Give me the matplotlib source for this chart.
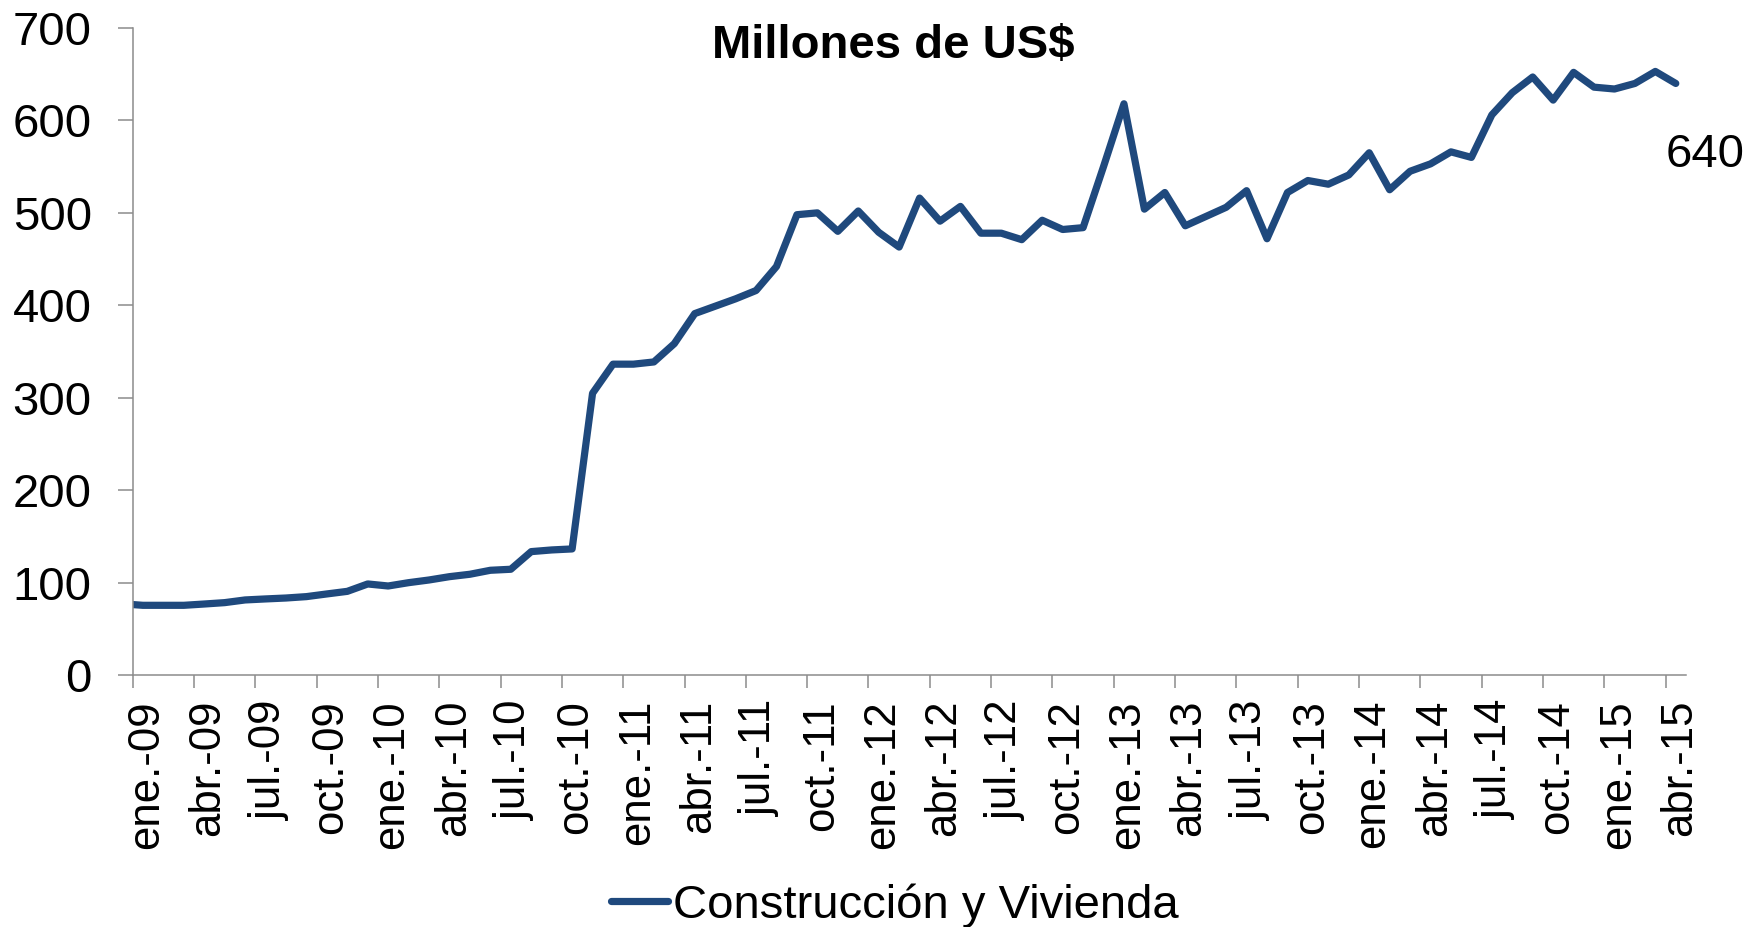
import matplotlib
matplotlib.use("Agg")
import matplotlib.pyplot as plt
import numpy as np
from matplotlib.transforms import ScaledTranslation

plt.rcParams['font.family'] = ['Liberation Sans', 'DejaVu Sans']

# ---- data -------------------------------------------------------------
month_abbr = ["ene.", "feb.", "mar.", "abr.", "may.", "jun.",
              "jul.", "ago.", "sep.", "oct.", "nov.", "dic."]
periods = ["dic.-08"] + [f"{m}-{y:02d}" for y in range(9, 16) for m in month_abbr][:76]

values = [77,
          # 2009
          75.4, 75.4, 75.4, 76.8, 78.3, 81.2, 82.3, 83.3, 84.8, 87.7, 90.5, 98.5,
          # 2010
          96.3, 99.9, 102.8, 106.4, 109, 113.3, 114.4, 133.5, 135.3, 136.4, 304.8, 336.3,
          # 2011
          336.3, 338.7, 358.5, 391, 399, 407, 416, 442, 498, 500, 480, 502,
          # 2012
          479, 463, 516, 491, 507, 478, 478, 471, 492, 482, 484, 550,
          # 2013
          618, 504, 522, 486, 496, 506, 524, 472, 522, 535, 531, 541,
          # 2014
          565, 525, 545, 553, 566, 560, 606, 630, 647, 622, 652, 636,
          # 2015
          634, 640, 653, 640]

series_name = "Construcción y Vivienda"
title = "Millones de US\\$"
yticks = [0, 100, 200, 300, 400, 500, 600, 700]

# ---- figure -----------------------------------------------------------
W, H = 1758, 927
fig = plt.figure(figsize=(W / 100, H / 100), dpi=100)
ax = fig.add_axes([132.7 / W, 1 - 675 / H, (1686 - 132.7) / W, (675 - 28) / H])

x = np.arange(len(values)) - 1          # ene.-09 -> 0
line_color = "#1F497D"
ax.plot(x, values, color=line_color, lw=5.2, solid_joinstyle='round',
        solid_capstyle='round', label=series_name)

ax.set_xlim(-0.5, 75.5)
ax.set_ylim(0, 700)
ax.set_yticks(yticks)
ax.set_yticklabels([str(v) for v in yticks], fontsize=34)

tick_pos = x[1::3] - 0.5
ax.set_xticks(tick_pos)
ax.set_xticklabels(periods[1::3], rotation=90, fontsize=31.5)

axis_gray = "#8c8c8c"
for s in ["top", "right"]:
    ax.spines[s].set_visible(False)
for s in ["left", "bottom"]:
    ax.spines[s].set_color(axis_gray)
    ax.spines[s].set_linewidth(1.1)
ax.tick_params(axis='both', direction='out', width=1.1, color=axis_gray,
               labelcolor='black')
ax.tick_params(axis='y', length=10.5, pad=19)
ax.tick_params(axis='x', length=9, pad=9)

shift = ScaledTranslation(14 / 100, 0, fig.dpi_scale_trans)
for lab in ax.get_xticklabels():
    lab.set_transform(lab.get_transform() + shift)

fig.text(893 / W, 1 - 58 / H, title, ha='center', va='baseline',
         fontsize=34, fontweight='bold')

ax.annotate(f"{values[-1]:.0f}", xy=(x[-1], values[-1]), xytext=(-7.2, -59.8),
            textcoords='offset points', ha='left', va='baseline', fontsize=34,
            annotation_clip=False)

fig.legend(loc='center', bbox_to_anchor=(895 / W, 0.0231), frameon=False,
           fontsize=34, handlelength=1.2, handletextpad=0.1, borderpad=0,
           borderaxespad=0)

fig.savefig("out.png", dpi=100)
